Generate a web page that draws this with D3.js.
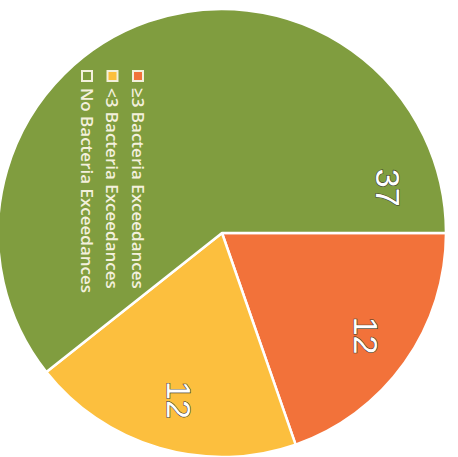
<!DOCTYPE html>
<html>
<head>
<meta charset="utf-8">
<script src="https://cdn.jsdelivr.net/npm/d3@7/dist/d3.min.js"></script>
<style>
  html, body { margin: 0; padding: 0; background: #ffffff; }
  svg { display: block; }
</style>
</head>
<body>
<svg id="chart" width="458" height="457"></svg>
<script>
// Sites by bacteria exceedance category
const categories = ["\u22653 Bacteria Exceedances", "<3 Bacteria Exceedances", "No Bacteria Exceedances"];
const counts = [12, 12, 37];
const colors = ["#f2723a", "#fcbf3e", "#809d3f"];

const W = 458, H = 457;
const cx = 222, cy = 233, radius = 224;

const svg = d3.select("#chart");

// The whole chart is turned a quarter turn clockwise
const g = svg.append("g").attr("transform", `translate(${cx},${cy}) rotate(90)`);

const data = categories.map((c, i) => ({ name: c, value: counts[i], color: colors[i] }));

const pie = d3.pie().sort(null).value(d => d.value);
const arcs = pie(data);

const arc = d3.arc().innerRadius(0).outerRadius(radius);

g.selectAll("path.slice")
  .data(arcs)
  .join("path")
  .attr("class", "slice")
  .attr("d", arc)
  .attr("fill", d => d.data.color)
  .attr("stroke", "#ffffff")
  .attr("stroke-width", 2.5)
  .attr("stroke-linejoin", "round");

// Large slice label sits clear of the legend, just above the first slice
const labelShift = [0, -0.03, 1.64];
const labelRadius = [0.79, 0.77, 0.77];

g.selectAll("text.value")
  .data(arcs)
  .join("text")
  .attr("class", "value")
  .attr("transform", (d, i) => {
    const mid = (d.startAngle + d.endAngle) / 2 + labelShift[i];
    const a = mid - Math.PI / 2;
    const rr = radius * labelRadius[i];
    return `translate(${Math.cos(a) * rr},${Math.sin(a) * rr})`;
  })
  .attr("text-anchor", "middle")
  .attr("dominant-baseline", "central")
  .attr("font-family", "'Liberation Sans', Arial, sans-serif")
  .attr("font-size", 34)
  .attr("fill", "#ffffff")
  .attr("stroke", "#3a3a2a")
  .attr("stroke-width", 1.2)
  .attr("paint-order", "stroke")
  .text(d => d.data.value);

// Legend, stacked in the rotated frame
const legend = g.append("g").attr("transform", "translate(-162,84)");
const item = legend.selectAll("g.item")
  .data(data)
  .join("g")
  .attr("class", "item")
  .attr("transform", (d, i) => `translate(0,${i * 25.5})`);

item.append("rect")
  .attr("x", 0).attr("y", -5)
  .attr("width", 10).attr("height", 10)
  .attr("fill", d => d.color)
  .attr("stroke", "#f3f0dc")
  .attr("stroke-width", 2);

item.append("text")
  .attr("x", 17)
  .attr("y", 0)
  .attr("dominant-baseline", "central")
  .attr("font-family", "'Open Sans', 'Noto Sans', sans-serif")
  .attr("font-size", 17)
  .attr("font-weight", 600)
  .attr("fill", "#f3f0dc")
  .text(d => d.name);
</script>
</body>
</html>
